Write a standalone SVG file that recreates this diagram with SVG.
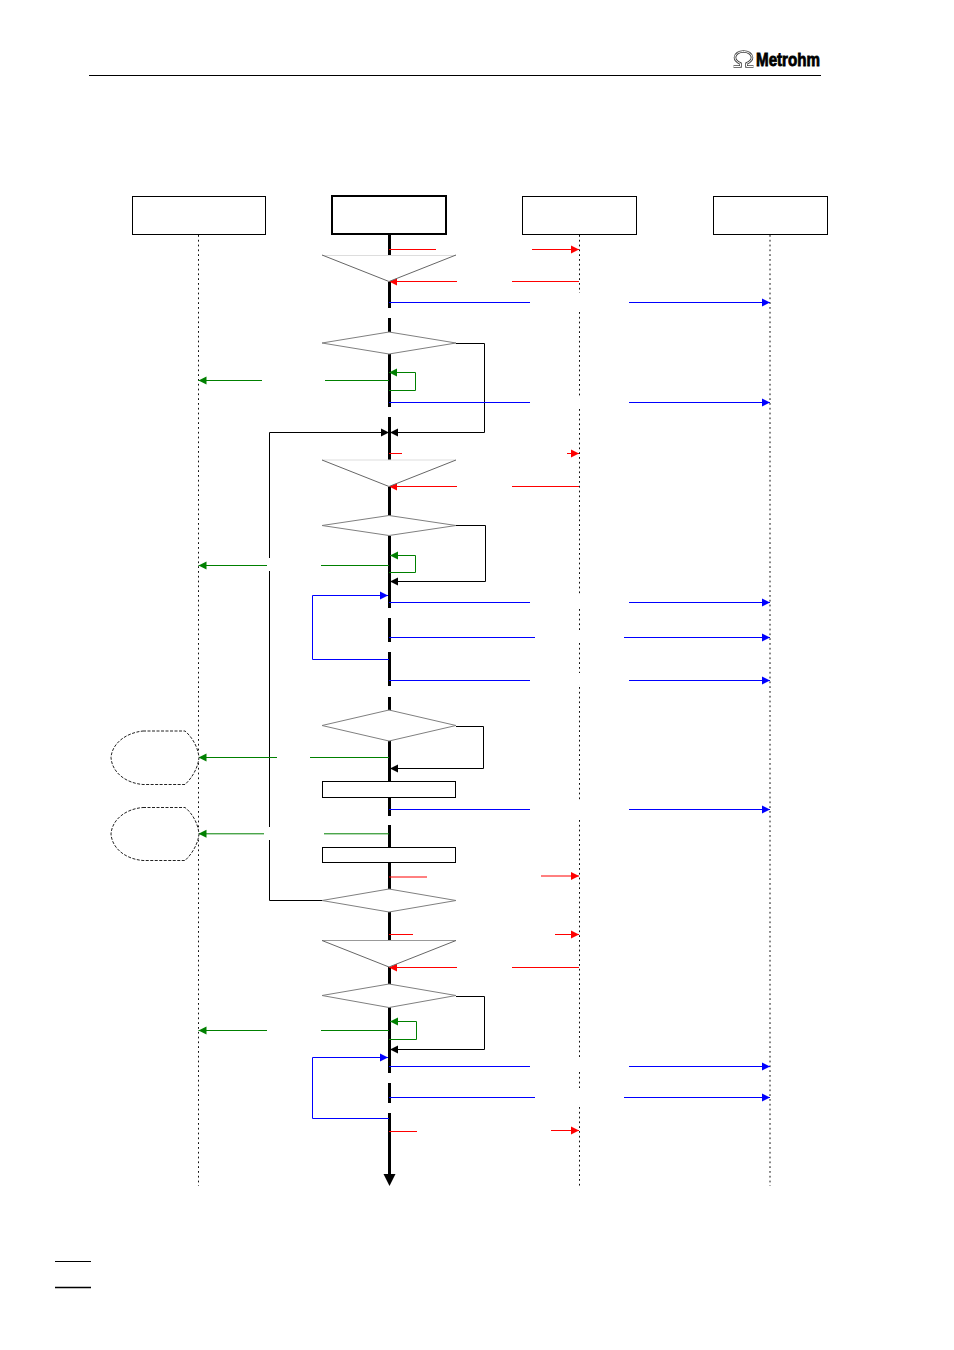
<svg xmlns="http://www.w3.org/2000/svg" width="954" height="1350" viewBox="0 0 954 1350">
<style>
.box{fill:#fff;stroke:#000;stroke-width:1}
.step{fill:#fff;stroke:#000;stroke-width:1}
.gate{fill:#fff;stroke:#808080;stroke-width:1}
.fill{fill:#fff;stroke:none}
.slope{fill:none;stroke:#666;stroke-width:1}
.cloud{fill:#fff;stroke:#222;stroke-width:1;stroke-dasharray:3 1.5}
.life{fill:none;stroke:#111;stroke-width:1;stroke-dasharray:1.800 3}
.axis{fill:none;stroke:#000;stroke-width:3}
.rule{fill:none;stroke:#000;stroke-width:1}
.k,.r,.g,.b{fill:none;stroke-width:1}
.k{stroke:#000}.r{stroke:#f00}.g{stroke:#008000}.b{stroke:#00f}
.ka{marker-end:url(#ak)}.ra{marker-end:url(#ar)}.ga{marker-end:url(#ag)}.ba{marker-end:url(#ab)}
</style>
<defs>
<marker id="ak" markerUnits="userSpaceOnUse" markerWidth="9" markerHeight="9" refX="8" refY="4.500" orient="auto"><path d="M0 0.500L8 4.500L0 8.500z" fill="#000"/></marker>
<marker id="ar" markerUnits="userSpaceOnUse" markerWidth="9" markerHeight="9" refX="8" refY="4.500" orient="auto"><path d="M0 0.500L8 4.500L0 8.500z" fill="#f00"/></marker>
<marker id="ag" markerUnits="userSpaceOnUse" markerWidth="9" markerHeight="9" refX="8" refY="4.500" orient="auto"><path d="M0 0.500L8 4.500L0 8.500z" fill="#008000"/></marker>
<marker id="ab" markerUnits="userSpaceOnUse" markerWidth="9" markerHeight="9" refX="8" refY="4.500" orient="auto"><path d="M0 0.500L8 4.500L0 8.500z" fill="#00f"/></marker>
</defs>
<rect width="954" height="1350" fill="#fff"/>

<!-- page header -->
<g id="logo">
<path d="M733.500 66.500H740.500V63.500C737 62 735 60 735 57.500C735 54 739 51.500 743.500 51.500C748 51.500 752 54 752 57.500C752 60 750 62 746.500 63.500V66.500H753.500" fill="none" stroke="#444" stroke-width="2.600"/>
<path d="M733.500 66.500H740.500V63.500C737 62 735 60 735 57.500C735 54 739 51.500 743.500 51.500C748 51.500 752 54 752 57.500C752 60 750 62 746.500 63.500V66.500H753.500" fill="none" stroke="#fff" stroke-width="1"/>
<text x="756" y="66" font-family="'Liberation Sans',Arial,sans-serif" font-size="18" font-weight="700" stroke="#000" stroke-width=".8" textLength="64" lengthAdjust="spacingAndGlyphs">Metrohm</text>
</g>
<path class="rule" d="M89 75.500H821"/>

<!-- lifelines -->
<g id="lifelines">
<path class="life" d="M198.500 235V1186"/>
<path class="life" d="M579.500 235V293M579.500 312V396M579.500 409V595M579.500 609V630M579.500 643V673M579.500 687V800M579.500 820V1058M579.500 1072V1088M579.500 1107V1186"/>
<path class="life" d="M770 235V1186"/>
</g>

<!-- central time axis -->
<g id="axis">
<path class="axis" d="M389.500 234V256M389.500 282V308M389.500 318V332M389.500 354V407M389.500 417V460M389.500 487V516M389.500 536V608M389.500 618V642M389.500 652V686M389.500 697V711M389.500 741V781M389.500 797V816M389.500 825V847M389.500 863V889M389.500 912V940M389.500 967V984M389.500 1007V1073M389.500 1083V1103M389.500 1113V1176"/>
<path d="M383.500 1174H395.500L389.500 1186z" fill="#000"/>
</g>

<!-- connectors -->
<g id="connectors">
<path class="r" d="M389 249.500H436"/><path class="r ra" d="M532 249.500H579"/>
<path class="r" d="M579 281.500H512"/><path class="r ra" d="M457 281.500H389"/>
<path class="b" d="M389 302.500H530"/><path class="b ba" d="M629 302.500H770"/>
<path class="k ka" d="M456 343.500H484.500V432.500H390"/>
<path class="g ga" d="M262 380.500H198.500"/><path class="g" d="M325 380.500H389"/>
<path class="g ga" d="M389 390.500H415.500V372.500H389"/>
<path class="b" d="M389 402.500H530"/><path class="b ba" d="M629 402.500H770"/>
<path class="k ka" d="M322 900.500H269.500V840M269.500 827V571M269.500 558V432.500H389"/>
<path class="r" d="M389 453.500H402"/><path class="r ra" d="M567 453.500H579"/>
<path class="r" d="M579 486.500H512"/><path class="r ra" d="M457 486.500H389"/>
<path class="k ka" d="M454 525.500H485.500V581.500H390"/>
<path class="g ga" d="M389 572.500H415.500V555.500H390"/>
<path class="g ga" d="M267 565.500H198.500"/><path class="g" d="M321 565.500H389"/>
<path class="b ba" d="M389 659.500H312.500V595.500H388"/>
<path class="b" d="M389 602.500H530"/><path class="b ba" d="M629 602.500H770"/>
<path class="b" d="M389 637.500H535"/><path class="b ba" d="M624 637.500H770"/>
<path class="b" d="M389 680.500H530"/><path class="b ba" d="M629 680.500H770"/>
<path class="k ka" d="M456 726.500H483.500V768.500H390"/>
<path class="g ga" d="M277 757.500H198.500"/><path class="g" d="M310 757.500H389"/>
<path class="b" d="M389 809.500H530"/><path class="b ba" d="M629 809.500H770"/>
<path class="g ga" d="M264 833.800H198.500"/><path class="g" d="M324 833.800H389"/>
<path class="r" d="M389 877H427"/><path class="r ra" d="M541 876H579"/>
<path class="r" d="M389 934.500H413"/><path class="r ra" d="M555 934.500H579"/>
<path class="r" d="M579 967.500H512"/><path class="r ra" d="M457 967.500H389"/>
<path class="k ka" d="M456 996.500H484.500V1049.500H390"/>
<path class="g ga" d="M389 1039.500H416.500V1021.500H390"/>
<path class="g ga" d="M267 1030.500H198.500"/><path class="g" d="M321 1030.500H389"/>
<path class="b ba" d="M389 1118.500H312.500V1057.500H388"/>
<path class="b" d="M389 1066.500H530"/><path class="b ba" d="M629 1066.500H770"/>
<path class="b" d="M389 1097.500H535"/><path class="b ba" d="M624 1097.500H770"/>
<path class="r" d="M389 1131.500H417"/><path class="r ra" d="M551 1130.500H579"/>
</g>

<!-- column heads -->
<g id="head-1"><rect class="box" x="132.500" y="196.500" width="133" height="38"/></g>
<g id="head-2"><rect x="332" y="196" width="114" height="38" fill="#fff" stroke="#000" stroke-width="2"/></g>
<g id="head-3"><rect class="box" x="522.500" y="196.500" width="114" height="38"/></g>
<g id="head-4"><rect class="box" x="713.500" y="196.500" width="114" height="38"/></g>

<!-- waits and branches on the axis -->
<g id="wait-1"><path class="fill" d="M322 255H456L389 281.500z"/><path d="M322 255.500H456" stroke="#ddd" fill="none"/><path class="slope" d="M322 255L389 281.500L456 255"/></g>
<g id="branch-1"><path class="gate" d="M322 343L389 332L456 343L389 354z"/></g>
<g id="wait-2"><path class="fill" d="M322 460H456L389 486.500z"/><path d="M322 460H456" stroke="#ddd" fill="none"/><path class="slope" d="M322 460L389 486.500L456 460"/></g>
<g id="branch-2"><path class="gate" d="M322 525.500L389 515.500L456 525.500L389 535.500z"/></g>
<g id="branch-3"><path class="gate" d="M322 725.500L389 710L456 725.500L389 741z"/></g>
<g id="step-1"><rect class="step" x="322.500" y="781.500" width="133" height="16"/></g>
<g id="step-2"><rect class="step" x="322.500" y="847.500" width="133" height="15"/></g>
<g id="branch-4"><path class="gate" d="M322 900.500L389 889L456 900.500L389 912z"/></g>
<g id="wait-3"><path class="fill" d="M322 940.500H456L389 967z"/><path d="M322 940.500H456" stroke="#999" fill="none"/><path class="slope" d="M322 940.500L389 967L456 940.500"/></g>
<g id="branch-5"><path class="gate" d="M322 995.500L389 984L456 995.500L389 1007.500z"/></g>

<!-- dashed off-page shapes -->
<g id="cloud-1"><path class="cloud" d="M143 731H185C192 737 198 747 199 757.500C198 768 192 778 185 784.500H143C125 783 112 772 111 757.500C112 744 125 733 143 731z"/></g>
<g id="cloud-2"><path class="cloud" d="M143 807.500H185C192 813 198 823 199 834C198 844 192 854 185 860.500H143C125 859 112 848 111 834C112 820 125 809 143 807.500z"/></g>

<!-- footnote rules -->
<path class="rule" d="M55 1261.500H91"/>
<path d="M55 1287.500H91" fill="none" stroke="#000" stroke-width="1.500"/>
</svg>
